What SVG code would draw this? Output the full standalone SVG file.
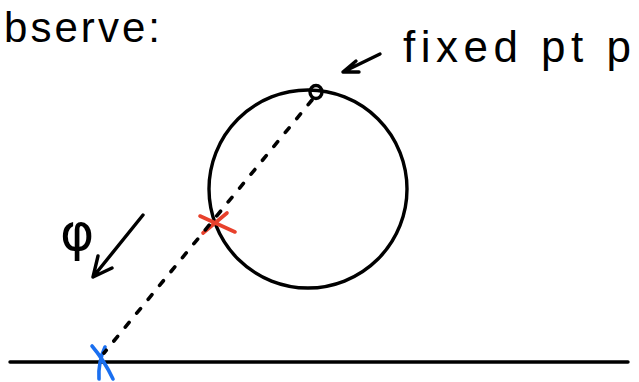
<svg xmlns="http://www.w3.org/2000/svg" width="639" height="382" viewBox="0 0 639 382">
<style>
.ink{fill:none;stroke:#000;stroke-width:3.4;stroke-linecap:round;stroke-linejoin:round}
.txt{font-family:"Liberation Sans","DejaVu Sans",sans-serif;fill:#000}
.dash{fill:none;stroke:#000;stroke-width:3.6;stroke-linecap:round;stroke-dasharray:6 12}
.red{fill:none;stroke:#e8412c;stroke-width:3.6;stroke-linecap:round}
.blue{fill:none;stroke:#1a6ff0;stroke-width:3.6;stroke-linecap:round}
</style>
<rect width="639" height="382" fill="#fff"/>
<g id="title"><text class="txt" x="4" y="42" font-size="42" textLength="156" lengthAdjust="spacing">bserve:</text></g>
<g id="label-fixed"><text class="txt" x="403" y="62" font-size="44" textLength="228" lengthAdjust="spacing">fixed pt p</text></g>
<g id="ground"><line class="ink" x1="10" y1="362" x2="628" y2="362"/></g>
<g id="circle"><circle class="ink" cx="308" cy="189" r="99"/></g>
<g id="point-p"><ellipse class="ink" cx="316" cy="92" rx="6" ry="6.5"/></g>
<g id="phi"><text x="60" y="250" font-size="52" font-family="'DejaVu Sans',sans-serif" fill="#000">φ</text></g>
<g id="red-x"><path class="red" d="M200 216 L235 232 M203 233 L227 213"/></g>
<g id="blue-x"><path class="blue" d="M92 346 Q104 360 113 379 M105 347 Q98 362 99 379"/></g>
<g id="connectors">
<line class="dash" x1="312" y1="100" x2="104" y2="353"/>
<path class="ink" d="M380 54 L343 72 M343 72 L356 61 M343 72 L359 72"/>
<path class="ink" d="M143 215 L93 277 M93 277 L98 256 M93 277 L112 268"/>
</g>
</svg>
